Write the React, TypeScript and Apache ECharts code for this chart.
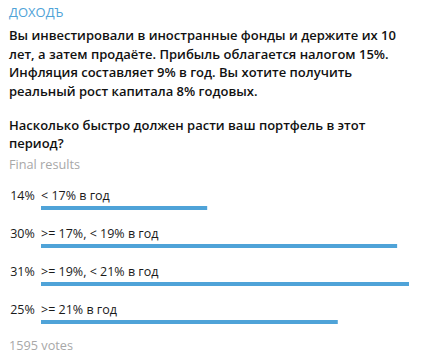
import React, { useEffect, useRef } from "react";
import * as echarts from "echarts";

const channel = "ДОХОДЪ";
const bodyLines = [
  "Вы инвестировали в иностранные фонды и держите их 10",
  "лет, а затем продаёте. Прибыль облагается налогом 15%.",
  "Инфляция составляет 9% в год. Вы хотите получить",
  "реальный рост капитала 8% годовых.",
];
const questionLines = [
  "Насколько быстро должен расти ваш портфель в этот",
  "период?",
];
const options = ["< 17% в год", ">= 17%, < 19% в год", ">= 19%, < 21% в год", ">= 21% в год"];
const percents = [14, 30, 31, 25];
const status = "Final results";
const votesText = "1595 votes";

const FONT = "'Open Sans', 'Noto Sans', sans-serif";
const BLUE = "#4fa3d8";
const GRAY = "#a8a8a8";

export default function App() {
  const ref = useRef<HTMLDivElement>(null);
  useEffect(() => {
    if (!ref.current) return;
    const chart = echarts.init(ref.current, null, { renderer: "svg" });
    const graphic: any[] = [];
    graphic.push({
      type: "text", x: 9, y: 12,
      style: { text: channel, fill: BLUE, font: `13px ${FONT}`, verticalAlign: "middle" },
    });
    const bodyY = [35, 53.5, 72, 90.5];
    bodyLines.forEach((t, i) => {
      graphic.push({
        type: "text", x: 9, y: bodyY[i],
        style: { text: t, fill: "#111", font: `600 13px ${FONT}`, verticalAlign: "middle" },
      });
    });
    const qY = [125, 143];
    questionLines.forEach((t, i) => {
      graphic.push({
        type: "text", x: 9, y: qY[i],
        style: { text: t, fill: "#111", font: `600 13px ${FONT}`, verticalAlign: "middle" },
      });
    });
    graphic.push({
      type: "text", x: 9, y: 164,
      style: { text: status, fill: GRAY, font: `12.7px ${FONT}`, verticalAlign: "middle" },
    });
    graphic.push({
      type: "text", x: 9, y: 345,
      style: { text: votesText, fill: GRAY, font: `12.7px ${FONT}`, verticalAlign: "middle" },
    });

    chart.setOption({
      animation: false,
      backgroundColor: "#ffffff",
      graphic,
      grid: { left: 41, right: 12, top: 189, height: 152, containLabel: false },
      xAxis: { type: "value", min: 0, max: Math.max(...percents), show: false },
      yAxis: { type: "category", data: options, inverse: true, show: false },
      series: [
        {
          type: "bar",
          data: percents,
          barWidth: 4,
          itemStyle: { color: BLUE },
          label: {
            show: true,
            position: [-32, -11],
            align: "left",
            verticalAlign: "middle",
            formatter: (p: any) => `{p|${p.value}%}{t|${options[p.dataIndex]}}`,
            rich: {
              p: { width: 27, align: "right", fontFamily: FONT, fontSize: 12.5, color: "#1a1a1a" },
              t: { padding: [0, 0, 0, 5], fontFamily: FONT, fontSize: 12.5, color: "#1a1a1a" },
            },
          },
        },
      ],
    });
    return () => chart.dispose();
  }, []);
  return (
    <div
      ref={ref}
      style={{ position: "fixed", left: 0, top: 0, width: 421, height: 356, background: "#fff" }}
    />
  );
}
